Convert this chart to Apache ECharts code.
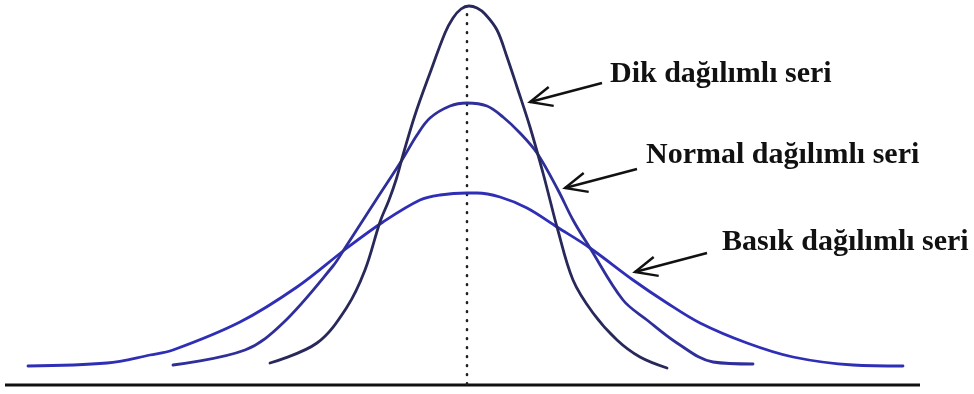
<!DOCTYPE html>
<html>
<head>
<meta charset="utf-8">
<title>Dağılım biçimleri</title>
<script src="https://cdn.jsdelivr.net/npm/echarts@6/dist/echarts.min.js"></script>
<style>
  html, body { margin: 0; padding: 0; background: #ffffff; }
  #chart { width: 974px; height: 394px; }
</style>
</head>
<body>
<div id="chart"></div>
<script>
// Curve samples: [offset from the mean, height above the baseline]
const dikSeri = [
  [-197, 21], [-150, 41], [-120, 77], [-102, 114], [-87, 162], [-78, 184],
  [-71, 204], [-64, 229], [-52, 269], [-37, 311], [-22, 351], [-14, 366],
  [-6, 375], [2, 378], [10, 376], [18, 370], [30, 354], [40, 327], [50, 297],
  [63, 257], [76, 211], [83, 184], [90, 157], [106, 104], [126, 71],
  [150, 44], [173, 27], [200, 16]
];
const normalSeri = [
  [-294, 19], [-222, 34], [-184, 61], [-134, 118], [-122, 136], [-91, 184],
  [-65, 224], [-50, 249], [-37, 266], [-17, 278], [0, 281], [20, 278],
  [36, 267], [53, 251], [70, 231], [91, 194], [106, 164], [123, 136],
  [156, 84], [180, 64], [210, 41], [246, 22], [286, 20]
];
const basikSeri = [
  [-439, 18], [-360, 21], [-317, 29], [-294, 34], [-227, 62], [-170, 97],
  [-120, 136], [-84, 162], [-47, 184], [-27, 189], [0, 191], [10, 191],
  [33, 187], [60, 176], [90, 157], [123, 136], [166, 104], [200, 81],
  [233, 61], [280, 41], [326, 27], [386, 19], [436, 18]
];

// Horizontal axis line and the dotted mean line
const tabanCizgisi = [[-462, -1], [453, -1]];
const ortalamaCizgisi = [[0, 0], [0, 370]];

// Annotation labels with arrows: text, arrow tail, arrow tip (data coordinates)
const etiketler = ['Dik dağılımlı seri', 'Normal dağılımlı seri', 'Basık dağılımlı seri'];
const okKuyruk = [[135, 301], [170, 215], [240, 131]];
const okUcu = [[63, 282], [98, 196], [168, 112]];
const etiketKonum = [[143, 310], [179, 229], [255, 142]];

const renkler = { dik: '#28285a', normal: '#2f2f9c', basik: '#2e2eb6' };

const chart = echarts.init(document.getElementById('chart'), null, { renderer: 'canvas' });

function egri(name, data, color) {
  return {
    name: name,
    type: 'line',
    data: data,
    smooth: 0.35,
    showSymbol: false,
    silent: true,
    lineStyle: { color: color, width: 2.8, cap: 'round' },
    z: 3
  };
}

chart.setOption({
  animation: false,
  backgroundColor: '#ffffff',
  grid: { left: 0, right: 0, top: 0, bottom: 0 },
  xAxis: { type: 'value', min: -467, max: 507, show: false },
  yAxis: { type: 'value', min: -10, max: 384, show: false },
  series: [
    {
      type: 'line', data: tabanCizgisi, showSymbol: false, silent: true,
      lineStyle: { color: '#111111', width: 3 }, z: 2
    },
    {
      type: 'line', data: ortalamaCizgisi, showSymbol: false, silent: true,
      lineStyle: { color: '#222222', width: 2.6, type: [0.6, 8.4], cap: 'round' }, z: 2
    },
    egri('Basık dağılımlı seri', basikSeri, renkler.basik),
    egri('Normal dağılımlı seri', normalSeri, renkler.normal),
    egri('Dik dağılımlı seri', dikSeri, renkler.dik)
  ]
});

// Arrows and label text, positioned through the chart's own coordinate conversion
function notlariCiz() {
  const elements = [];
  etiketler.forEach(function (text, i) {
    const tail = chart.convertToPixel({ gridIndex: 0 }, okKuyruk[i]);
    const tip = chart.convertToPixel({ gridIndex: 0 }, okUcu[i]);
    const pos = chart.convertToPixel({ gridIndex: 0 }, etiketKonum[i]);
    const ang = Math.atan2(tail[1] - tip[1], tail[0] - tip[0]);
    const len = 24, spread = 0.42;
    const b1 = [tip[0] + len * Math.cos(ang + spread), tip[1] + len * Math.sin(ang + spread)];
    const b2 = [tip[0] + len * Math.cos(ang - spread), tip[1] + len * Math.sin(ang - spread)];
    elements.push({
      type: 'polyline', silent: true,
      shape: { points: [tail, tip] },
      style: { stroke: '#111111', lineWidth: 2.4, fill: null }
    });
    elements.push({
      type: 'polyline', silent: true,
      shape: { points: [b1, tip, b2] },
      style: { stroke: '#111111', lineWidth: 2.4, fill: null, lineJoin: 'miter' }
    });
    elements.push({
      type: 'text', silent: true,
      x: pos[0], y: pos[1],
      style: {
        text: text,
        fill: '#111111',
        font: 'bold 30px "Liberation Serif", "Times New Roman", serif',
        align: 'left',
        verticalAlign: 'middle'
      }
    });
  });
  chart.setOption({ graphic: { elements: elements } });
}
notlariCiz();
</script>
</body>
</html>
